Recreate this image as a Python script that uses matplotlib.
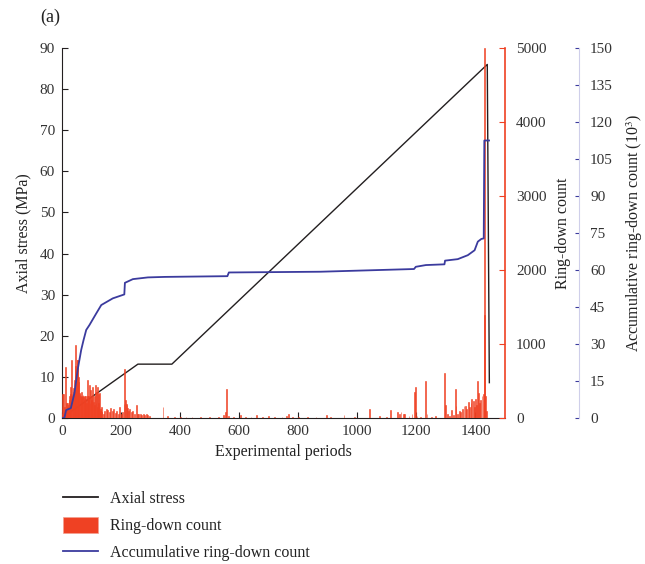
import matplotlib
matplotlib.use("Agg")
import matplotlib.pyplot as plt
from matplotlib.lines import Line2D
from matplotlib.patches import Patch

plt.rcParams['font.family'] = ['Liberation Serif', 'DejaVu Serif']
plt.rcParams['mathtext.fontset'] = 'stix'

# ---- data ----
stress_period = [0, 257, 372, 1440, 1447]
stress_value = [0, 13.1, 13.1, 86.0, 8.6]

cum_period = [0, 8, 14, 30, 42, 53, 65, 73, 82, 93, 116, 133, 172, 211, 213, 240, 291,
              348, 560, 565, 875, 1192, 1198, 1232, 1295, 1297, 1340, 1374, 1397, 1408,
              1420, 1428, 1430, 1446]
cum_value = [0, 0, 3.2, 4.0, 10, 19.5, 27.6, 31.6, 35.7, 37.7, 42.4, 45.8, 48.5, 50.1,
             54.8, 56.3, 57.0, 57.2, 57.5, 59.0, 59.3, 60.4, 61.3, 62.0, 62.3, 63.8, 64.4,
             66.0, 68.0, 71.5, 72.6, 72.8, 112.5, 112.5]

rd_period = [1, 3, 5, 7, 9, 12, 14, 16, 18, 20, 22, 24, 26, 28, 30, 32, 34, 36, 38, 40,
             42, 44, 46, 47, 49, 51, 53, 55, 57, 59, 61, 63, 65, 67, 69, 71, 73, 75, 77, 79,
             81, 83, 85, 87, 89, 91, 93, 95, 97, 99, 101, 103, 105, 107, 109, 111, 113, 115,
             117, 119, 121, 123, 125, 127, 129, 131, 133, 135, 140, 145, 150, 155, 160, 165,
             170, 175, 180, 185, 190, 195, 200, 205, 210, 212, 214, 217, 220, 223, 226, 230,
             235, 240, 245, 251, 255, 260, 265, 270, 275, 280, 285, 290, 295,
             342, 356, 380, 400, 420, 440, 470, 500, 530, 546, 553, 558, 565, 580, 603, 620,
             640, 660, 680, 700, 720, 745, 760, 766, 780, 800, 830, 860, 896, 910, 955, 990,
             1040, 1074, 1100, 1113, 1136, 1142, 1148, 1155, 1160, 1175, 1185, 1195, 1198,
             1202, 1215, 1232, 1236, 1250, 1265, 1295, 1300, 1305, 1312, 1320, 1325, 1331,
             1334, 1340, 1345, 1350, 1355, 1361, 1366, 1370, 1376, 1380, 1385, 1388, 1392,
             1396, 1400, 1404, 1408, 1411, 1414, 1418, 1422, 1427, 1430, 1432, 1434, 1437]
rd_count = [60, 330, 330, 150, 100, 690, 200, 120, 150, 200, 180, 250, 300, 330, 420, 780,
            330, 300, 400, 350, 520, 420, 700, 985, 600, 780, 780, 480, 550, 340, 320, 300,
            280, 350, 300, 310, 290, 300, 250, 300, 260, 200, 300, 513, 260, 300, 446, 200,
            380, 300, 250, 420, 300, 220, 180, 300, 446, 200, 350, 423, 150, 200, 324, 338,
            120, 100, 150, 80, 60, 100, 120, 110, 80, 130, 100, 120, 70, 90, 60, 150, 60, 80,
            190, 662, 240, 190, 180, 140, 100, 120, 80, 100, 60, 176, 60, 50, 60, 40, 50, 40,
            50, 40, 30,
            142, 30, 15, 20, 10, 15, 15, 10, 20, 40, 86, 392, 30, 15, 40, 15, 20, 40, 20, 25,
            20, 20, 30, 54, 20, 15, 15, 15, 40, 15, 40, 15,
            117, 27, 20, 108, 77, 60, 77, 60, 50, 30, 50, 356, 423, 30, 20, 500, 60, 20, 25,
            604, 176, 60, 30, 108, 40, 396, 160, 60, 100, 80, 120, 160, 160, 120, 212, 150,
            200, 257, 230, 150, 260, 180, 500, 338, 200, 250, 300, 330, 5000, 1390, 300, 100]

x_ticks = [0, 200, 400, 600, 800, 1000, 1200, 1400]
stress_ticks = list(range(0, 91, 10))
rd_ticks = [0, 1000, 2000, 3000, 4000, 5000]
cum_ticks = list(range(0, 151, 15))

# ---- style ----
c_black = '#231f20'
c_red = '#ef4123'
c_blue = '#3b3b9e'
fs = 11

fig = plt.figure(figsize=(6.45, 5.64), dpi=100)
ax1 = fig.add_axes([62/645, 1-418/564, 443/645, 370/564])
ax2 = ax1.twinx()
ax3 = ax1.twinx()

ax1.plot(stress_period, stress_value, color=c_black, lw=1.0)
ax2.bar(rd_period, rd_count, width=3.0, color=c_red, edgecolor=c_red, linewidth=0.4)
ax3.plot(cum_period, cum_value, color=c_blue, lw=1.3)

ax1.set_xlim(0, 1500)
ax1.set_ylim(0, 90)
ax2.set_ylim(0, 5000)
ax3.set_ylim(0, 150)

ax1.set_xticks(x_ticks)
ax1.set_yticks(stress_ticks)
ax2.set_yticks(rd_ticks)
ax3.set_yticks(cum_ticks)

for ax in (ax1, ax2, ax3):
    ax.spines['top'].set_visible(False)
ax1.spines['right'].set_visible(False)
ax2.spines['left'].set_visible(False)
ax3.spines['left'].set_visible(False)
ax2.spines['bottom'].set_visible(False)
ax3.spines['bottom'].set_visible(False)

ax1.spines['left'].set_color(c_black)
ax1.spines['bottom'].set_color(c_black)
ax2.spines['right'].set_color(c_red)
ax2.spines['right'].set_linewidth(1.2)
ax3.spines['right'].set_position(('axes', 1.167))
ax3.spines['right'].set_color('#cfcfea')
ax3.spines['right'].set_linewidth(0.8)

ax1.tick_params(axis='both', direction='in', length=4, labelsize=fs, colors=c_black,
                labelcolor='#333333', pad=5)
ax2.tick_params(axis='y', direction='in', length=4, labelsize=fs, color=c_red,
                labelcolor='#333333', pad=8)
ax3.tick_params(axis='y', direction='in', length=3, labelsize=fs, color=c_blue,
                labelcolor='#333333', pad=8)

ax1.set_xlabel('Experimental periods', fontsize=fs + 0.5, color='#222222', labelpad=4)
ax1.set_ylabel('Axial stress (MPa)', fontsize=fs + 0.5, color='#222222', labelpad=6)
ax2.set_ylabel('Ring-down count', fontsize=fs + 0.5, color='#222222', labelpad=6)
ax3.set_ylabel('Accumulative ring-down count (10$^{3}$)', fontsize=fs + 0.5,
               color='#222222', labelpad=8)

fig.text(40/645, 1-17/564, '(a)', fontsize=13, va='center', ha='left', color='#222222')

handles = [Line2D([0], [0], color=c_black, lw=1.3),
           Patch(facecolor=c_red, edgecolor='#f4a090', lw=0.5),
           Line2D([0], [0], color=c_blue, lw=1.3)]
labels = ['Axial stress', 'Ring-down count', 'Accumulative ring-down count']
fig.legend(handles, labels, loc='upper left', bbox_to_anchor=(49/645, 1-476/564),
           frameon=False, fontsize=fs + 0.5, handlelength=2.15, handleheight=1.1,
           labelspacing=0.62, handletextpad=0.8, labelcolor='#222222')

fig.savefig('out.png', dpi=100)
